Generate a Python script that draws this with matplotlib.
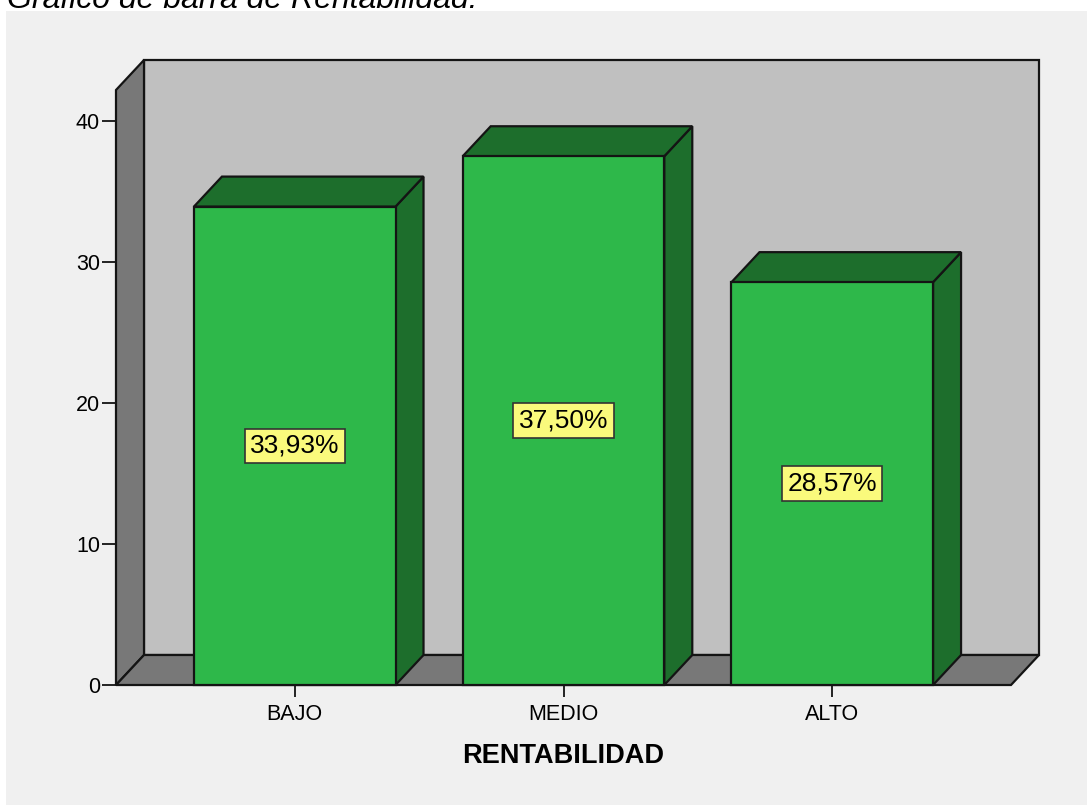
import matplotlib
matplotlib.use("Agg")
import matplotlib.pyplot as plt
from matplotlib.patches import Polygon, Rectangle

# data
categories = ["BAJO", "MEDIO", "ALTO"]
percent = [33.93, 37.50, 28.57]
labels = ["33,93%", "37,50%", "28,57%"]
y_ticks = [0, 10, 20, 30, 40]

plt.rcParams['font.family'] = ['Liberation Sans', 'DejaVu Sans']

W, H = 1087, 805
fig = plt.figure(figsize=(W / 100, H / 100), dpi=100)
fig.patch.set_facecolor('white')

# light gray panel behind the chart
fig.patches.append(Rectangle((6 / W, 0), 1 - 6 / W, 1 - 11 / H,
                             transform=fig.transFigure, facecolor='#f0f0f0',
                             edgecolor='none', zorder=-5))
fig.text(7 / W, 1 - 8 / H, "Gráfico de barra de Rentabilidad.",
         fontsize=23, style='italic', va='baseline', ha='left')

# front plane of the 3d box
left, right, bottom, top = 116, 1011, 685, 90
ax = fig.add_axes([left / W, (H - bottom) / H, (right - left) / W,
                   (bottom - top) / H])
xmin, xmax = 0.335, 3.665
ymax = (bottom - top) / ((bottom - 121) / 40.0)
ax.set_xlim(xmin, xmax)
ax.set_ylim(0, ymax)
ax.patch.set_visible(False)
for s in ax.spines.values():
    s.set_visible(False)

# depth of the 3d effect, in data units
dx = 28 / ((right - left) / (xmax - xmin))
dy = 30 / ((bottom - top) / ymax)

edge = '#141414'
lw = 1.6


def poly(pts, color, z):
    ax.add_patch(Polygon(pts, closed=True, facecolor=color, edgecolor=edge,
                         linewidth=lw, clip_on=False, zorder=z,
                         joinstyle='miter'))


# walls and floor
poly([(xmin + dx, dy), (xmax + dx, dy), (xmax + dx, ymax + dy),
      (xmin + dx, ymax + dy)], '#c0c0c0', 1)
poly([(xmin, 0), (xmin, ymax), (xmin + dx, ymax + dy), (xmin + dx, dy)],
     '#787878', 2)
poly([(xmin, 0), (xmax, 0), (xmax + dx, dy), (xmin + dx, dy)],
     '#787878', 2)

# bars
xs = [1, 2, 3]
bw = 0.75
for x, v, lab in zip(xs, percent, labels):
    l, r = x - bw / 2, x + bw / 2
    poly([(r, 0), (r, v), (r + dx, v + dy), (r + dx, dy)], '#1d6e2c', 3)
    poly([(l, v), (r, v), (r + dx, v + dy), (l + dx, v + dy)], '#1d6e2c', 3)
    poly([(l, 0), (r, 0), (r, v), (l, v)], '#2eb84a', 4)
    ax.text(x, v / 2, lab, ha='center', va='center', fontsize=19, zorder=5,
            bbox=dict(boxstyle='square,pad=0.2', facecolor='#fafa7c',
                      edgecolor='#333333', linewidth=1.2))

ax.set_yticks(y_ticks)
ax.set_xticks(xs)
ax.set_xticklabels(categories)
ax.tick_params(axis='y', direction='out', length=10, width=1.2, pad=1.5,
               labelsize=15.5, colors='black')
ax.tick_params(axis='x', direction='out', length=8.5, width=1.2, pad=5,
               labelsize=15.5, colors='black')

fig.text((left + right) / 2 / W, 1 - 756 / H, "RENTABILIDAD", fontsize=19.5,
         fontweight='bold', ha='center', va='center')

fig.savefig("out.png", dpi=100)
